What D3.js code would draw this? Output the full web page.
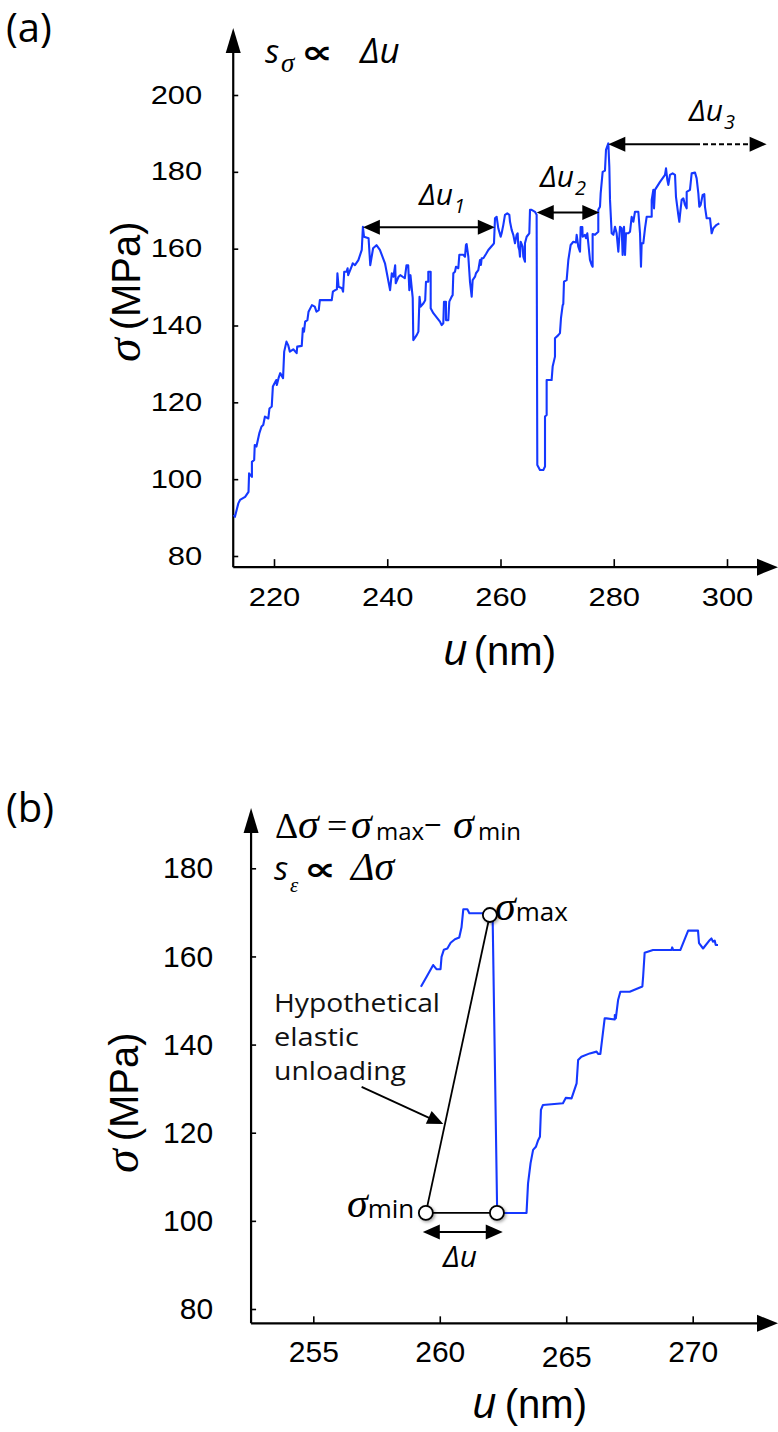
<!DOCTYPE html>
<html>
<head>
<meta charset="utf-8">
<script src="https://cdn.jsdelivr.net/npm/d3@7"></script>
<style>
  body { margin: 0; background: #fff; }
  svg { display: block; }
</style>
</head>
<body>
<svg id="fig" width="778" height="1432"></svg>
<script>
// ---------- Panel (a): stress vs displacement, full trace ----------
const uA = [
  212.9, 213.1, 213.7, 214.0, 214.9, 215.5, 215.6, 216.1, 216.1, 216.5, 216.6, 216.9, 217.4, 217.8, 218.1,
  218.4, 219.0, 219.2, 219.6, 219.8, 220.4, 220.5, 220.8, 221.1, 221.6, 221.8, 222.2, 222.5, 222.8, 223.4,
  224.0, 224.1, 224.9, 225.1, 225.3, 225.5, 225.9, 226.1, 226.7, 227.2, 227.5, 227.9, 228.0, 228.1, 230.2,
  230.4, 230.8, 231.1, 231.2, 231.4, 232.0, 232.2, 232.4, 232.8, 233.0, 233.1, 233.7, 233.9, 234.3, 234.9,
  235.5, 235.7, 235.9, 236.7, 237.0, 237.5, 238.1, 238.7, 239.6, 240.5, 240.8, 241.1, 241.4, 241.5, 242.0,
  242.3, 243.1, 243.4, 243.7, 243.9, 244.1, 244.5, 244.6, 245.2, 245.5, 245.7, 245.9, 246.4, 246.7, 246.84,
  247.25, 247.25, 247.67, 247.67, 248.14, 249.31, 249.61, 249.9, 250.02, 250.37, 250.37, 250.78, 250.96, 251.37, 251.55,
  251.67, 251.96, 252.14, 252.55, 252.73, 253.43, 253.73, 253.9, 254.02, 254.32, 254.61, 254.91, 255.08, 255.5, 255.67,
  256.08, 256.38, 256.55, 256.67, 256.97, 257.44, 257.85, 258.61, 258.85, 259.03, 259.32, 259.61, 260.03, 260.2, 260.5,
  260.79, 261.2, 261.56, 261.68, 261.97, 262.26, 262.56, 262.85, 263.03, 263.15, 263.32, 263.44, 263.56, 263.91, 264.03,
  264.32, 264.32, 264.62, 265.09, 265.21, 265.5, 266.09, 266.38, 266.5, 266.97, 267.56, 267.86, 267.86, 268.15, 268.15,
  269.03, 269.21, 269.62, 269.62, 270.21, 270.5, 270.68, 270.98, 271.09, 271.21, 271.68, 271.98, 272.39, 272.86, 273.33,
  273.45, 273.74, 274.04, 274.16, 274.45, 274.51, 274.92, 275.1, 275.33, 275.51, 275.8, 276.1, 276.27, 276.27, 276.69,
  276.98, 277.27, 277.27, 277.57, 277.69, 278.04, 278.45, 278.63, 279.04, 279.22, 279.34, 279.63, 279.93, 280.22, 280.51,
  280.81, 281.1, 281.4, 281.57, 281.81, 281.99, 282.16, 282.58, 282.87, 283.16, 283.46, 283.75, 284.34, 284.64, 284.81,
  284.93, 285.22, 285.52, 285.81, 286.7, 286.7, 286.99, 287.11, 287.28, 288.17, 289.05, 289.23, 289.46, 289.64, 289.93,
  290.4, 290.82, 290.99, 291.4, 291.58, 291.7, 291.99, 292.29, 292.58, 292.88, 292.88, 293.46, 293.76, 294.35, 294.64,
  294.94, 295.11, 295.35, 295.7, 295.99, 296.11, 296.41, 297.0, 297.29, 297.58, 298.17, 298.64
];
const sigmaA = [
  90.7, 90.2, 93.7, 94.6, 95.4, 96.7, 101.5, 100.6, 104.5, 105.0, 108.9, 108.5, 111.9, 113.7, 114.1,
  116.3, 115.8, 118.4, 118.9, 124.1, 125.8, 124.5, 126.3, 127.6, 126.3, 133.2, 135.8, 134.9, 133.2, 133.8,
  132.8, 134.5, 134.7, 139.3, 138.4, 141.0, 141.4, 143.6, 145.3, 144.9, 143.6, 144.0, 145.3, 146.6, 146.6,
  148.8, 149.2, 149.4, 153.6, 150.1, 149.7, 148.8, 154.0, 154.0, 154.9, 153.1, 155.3, 156.2, 155.7, 157.0,
  159.7, 165.7, 163.1, 162.7, 155.7, 160.1, 160.9, 159.7, 156.2, 149.2, 153.6, 152.7, 155.7, 151.0, 152.7,
  153.1, 152.3, 155.7, 155.7, 149.2, 153.1, 147.1, 136.2, 137.5, 138.4, 147.5, 144.9, 145.8, 146.6, 151.4,
  151.4, 154.0, 154.0, 144.5, 143.2, 141.0, 140.1, 140.6, 146.2, 146.2, 141.4, 141.4, 146.2, 147.5, 147.9,
  153.6, 154.0, 155.3, 154.9, 158.4, 158.4, 157.9, 161.0, 161.2, 157.9, 151.4, 147.5, 151.8, 152.7, 153.6,
  154.4, 157.05, 155.75, 157.5, 157.5, 158.6, 159.65, 160.96, 161.4, 167.9, 168.3, 165.3, 163.1, 164.0, 166.2,
  168.8, 169.2, 168.8, 167.0, 164.9, 163.6, 161.4, 163.6, 164.0, 160.5, 159.65, 157.9, 161.8, 160.5, 157.9,
  156.6, 161.4, 163.1, 164.0, 170.1, 170.1, 169.6, 168.8, 103.7, 102.4, 102.4, 103.3, 116.3, 116.7, 125.8,
  125.8, 129.3, 131.9, 136.7, 137.5, 138.0, 141.9, 145.3, 145.6, 151.4, 151.8, 157.05, 160.96, 161.8, 161.6,
  163.6, 160.5, 159.2, 165.6, 165.6, 163.1, 163.6, 162.7, 164.0, 161.4, 157.05, 155.75, 155.3, 163.8, 163.6,
  164.0, 164.4, 170.1, 170.9, 174.4, 180.0, 180.3, 185.7, 187.4, 181.3, 172.7, 164.0, 163.6, 165.7, 164.0,
  159.2, 165.7, 165.3, 158.35, 165.7, 158.35, 164.0, 164.0, 164.4, 168.3, 167.0, 169.6, 169.6, 164.0, 155.3,
  161.4, 161.4, 165.3, 168.3, 168.3, 172.7, 175.3, 170.5, 175.3, 177.4, 179.2, 180.9, 177.9, 176.6, 179.2,
  179.6, 179.2, 173.5, 168.8, 167.0, 168.8, 172.7, 173.1, 171.4, 170.5, 174.8, 175.3, 179.6, 179.8, 178.3,
  174.4, 170.9, 171.4, 174.0, 174.2, 170.9, 167.9, 167.9, 164.0, 165.3, 166.2, 166.6
];
const uTicksA = [220, 240, 260, 280, 300];
const sigmaTicksA = [80, 100, 120, 140, 160, 180, 200];
// flow intervals: [start u, end u, stress level]
const deltaU1 = [235.7, 259.0, 165.6];
const deltaU2 = [266.4, 277.45, 169.4];
const deltaU3 = [279.04, 307.0, 187.2, 294.35]; // last: where the interval turns dashed

// ---------- Panel (b): zoom on one stress drop ----------
const uB = [
  259.255, 259.48, 259.74, 259.87, 260.03, 260.07, 260.16, 260.3, 260.43, 260.6, 260.77, 260.86, 260.93, 261.09, 261.17,
  261.92, 262.09, 262.27, 263.43, 263.49, 263.59, 263.69, 263.8, 263.89, 263.96, 264.0, 264.08, 264.87, 264.98, 265.21,
  265.41, 265.47, 265.6, 265.93, 266.2, 266.26, 266.35, 266.52, 266.59, 266.92, 266.92, 266.96, 267.05, 267.14, 267.51,
  268.01, 268.04, 268.1, 268.43, 269.16, 269.19, 269.23, 269.51, 269.82, 270.21, 270.25, 270.41, 270.67, 270.74, 270.8,
  270.87, 270.91, 271.0
];
const sigmaB = [
  153.1, 155.4, 158.05, 157.1, 157.1, 159.9, 161.5, 161.8, 163.1, 163.9, 164.3, 166.6, 170.7, 170.7, 169.8,
  169.8, 169.0, 101.8, 101.8, 108.5, 113.1, 116.1, 116.8, 118.3, 119.1, 125.2, 126.3, 126.7, 127.9, 127.8,
  131.2, 136.5, 137.25, 138.0, 138.4, 137.9, 137.9, 145.95, 145.95, 145.7, 146.7, 145.95, 150.1, 152.0, 152.0,
  153.2, 155.4, 160.85, 161.45, 161.45, 162.05, 161.45, 161.45, 165.85, 165.85, 163.0, 161.8, 163.7, 164.1, 163.35,
  163.6, 162.6, 162.6
];
const uTicksB = [255, 260, 265, 270];
const sigmaTicksB = [80, 100, 120, 140, 160, 180];
const sigmaMaxPoint = [261.98, 169.4];
const sigmaMinPoint = [259.45, 101.8];
const dropEndPoint = [262.26, 101.8];
const deltaUB = [259.33, 262.49, 97.5];
const unloadPointer = [[256.91, 130.4], [260.14, 122.0]];
const unloadNote = ["Hypothetical", "elastic", "unloading"];

// ---------- drawing ----------
const BLUE = "#1538ff";
const SANS = "'Liberation Sans', Arial, sans-serif";
const HUM = "'Open Sans', 'Noto Sans', sans-serif";
const SERIF = "'Liberation Serif', 'Times New Roman', serif";
const svg = d3.select("#fig");

const defs = svg.append("defs");
const shadow = defs.append("filter").attr("id", "soft").attr("x", "-50%").attr("y", "-50%")
  .attr("width", "200%").attr("height", "200%");
shadow.append("feDropShadow").attr("dx", 1.5).attr("dy", 1.5).attr("stdDeviation", 1.6)
  .attr("flood-color", "#000").attr("flood-opacity", 0.35);

function head(g, tip, from, len, half) {
  const dx = tip[0] - from[0], dy = tip[1] - from[1];
  const L = Math.hypot(dx, dy), ux = dx / L, uy = dy / L;
  const bx = tip[0] - ux * len, by = tip[1] - uy * len;
  g.append("path")
    .attr("d", `M${tip[0]},${tip[1]}L${bx - uy * half},${by + ux * half}L${bx + uy * half},${by - ux * half}Z`)
    .attr("fill", "#000");
}

function axesFrame(g, x0, y0, xTip, yTip) {
  g.append("line").attr("x1", x0).attr("y1", y0).attr("x2", x0).attr("y2", yTip + 20)
    .attr("stroke", "#000").attr("stroke-width", 2.2);
  g.append("line").attr("x1", x0).attr("y1", y0).attr("x2", xTip - 16).attr("y2", y0)
    .attr("stroke", "#000").attr("stroke-width", 2.2);
  head(g, [x0, yTip], [x0, y0], 25, 7.5);
  head(g, [xTip, y0], [x0, y0], 21, 8.5);
}

function doubleArrow(g, x1, x2, y, dashFrom) {
  const len = 17, half = 7.5;
  if (dashFrom == null) {
    g.append("line").attr("x1", x1 + len - 2).attr("x2", x2 - len + 2).attr("y1", y).attr("y2", y)
      .attr("stroke", "#000").attr("stroke-width", 2);
  } else {
    g.append("line").attr("x1", x1 + len - 2).attr("x2", dashFrom).attr("y1", y).attr("y2", y)
      .attr("stroke", "#000").attr("stroke-width", 2);
    g.append("line").attr("x1", dashFrom).attr("x2", x2 - len + 2).attr("y1", y).attr("y2", y)
      .attr("stroke", "#000").attr("stroke-width", 2).attr("stroke-dasharray", "5,3");
  }
  head(g, [x1, y], [x2, y], len, half);
  head(g, [x2, y], [x1, y], len, half);
}

// a wide, heavy "proportional to" sign
function propTo(g, x, y, size) {
  g.append("text").attr("transform", `translate(${x},${y}) scale(1.4,1)`)
    .style("font-family", "'DejaVu Sans'").style("font-weight", "bold").style("font-size", size + "px")
    .attr("fill", "#000").text("∝");
}

// ===== Panel (a) =====
const xA = d3.scaleLinear().domain([220, 300]).range([274, 727]);
const yA = d3.scaleLinear().domain([80, 200]).range([556, 95]);
const gA = svg.append("g");
const ax0 = xA(212.8), ay0 = yA(77.1);

gA.append("g").attr("transform", `translate(${ax0},0)`)
  .call(d3.axisLeft(yA).tickValues(sigmaTicksA).tickSize(-5).tickPadding(31))
  .call(g => g.select(".domain").remove())
  .call(g => g.selectAll("line").attr("stroke", "#000").attr("stroke-width", 1.6))
  .call(g => g.selectAll("text").attr("fill", "#000").style("font-family", SANS).style("font-size", "25px")
    .attr("textLength", d => String(d).length * 17.2).attr("lengthAdjust", "spacingAndGlyphs"));
gA.append("g").attr("transform", `translate(0,${ay0})`)
  .call(d3.axisBottom(xA).tickValues(uTicksA).tickSize(-8).tickPadding(21))
  .call(g => g.select(".domain").remove())
  .call(g => g.selectAll("line").attr("stroke", "#000").attr("stroke-width", 1.6))
  .call(g => g.selectAll("text").attr("fill", "#000").style("font-family", SANS).style("font-size", "25px")
    .attr("textLength", d => String(d).length * 17.2).attr("lengthAdjust", "spacingAndGlyphs"));

axesFrame(gA, ax0, ay0, 778, 28);

const lineA = d3.line().x(i => xA(uA[i])).y(i => yA(sigmaA[i]));
gA.append("path").attr("d", lineA(d3.range(uA.length)))
  .attr("fill", "none").attr("stroke", BLUE).attr("stroke-width", 2.1).attr("stroke-linejoin", "round");

doubleArrow(gA, xA(deltaU1[0]), xA(deltaU1[1]), yA(deltaU1[2]));
doubleArrow(gA, xA(deltaU2[0]), xA(deltaU2[1]), yA(deltaU2[2]));
doubleArrow(gA, xA(deltaU3[0]), xA(deltaU3[1]), yA(deltaU3[2]), xA(deltaU3[3]));

function deltaULabel(g, x, y, sub) {
  const t = g.append("text").attr("x", x).attr("y", y).style("font-family", HUM)
    .style("font-style", "italic").style("font-size", "30px").attr("fill", "#000");
  t.append("tspan").text("Δu");
  t.append("tspan").attr("dx", 1).attr("dy", 8).style("font-size", "20px").text(sub);
}
deltaULabel(gA, 419, 205, "1");
deltaULabel(gA, 540, 187, "2");
deltaULabel(gA, 689, 121, "3");

// scaling relation
{
  const t = gA.append("text").attr("y", 63).attr("fill", "#000");
  t.append("tspan").attr("x", 265).style("font-family", HUM).style("font-style", "italic").style("font-size", "33px").text("s");
  t.append("tspan").attr("x", 281).attr("dy", 9).style("font-family", SERIF).style("font-style", "italic").style("font-size", "27px").text("σ");
  t.append("tspan").attr("x", 360).attr("dy", -9).style("font-family", HUM).style("font-style", "italic").style("font-size", "35px").text("Δu");
  propTo(gA, 301, 63, 32);
}

// axis titles (a)
{
  const t = gA.append("text").attr("x", 443).attr("y", 665).attr("fill", "#000");
  t.append("tspan").style("font-family", HUM).style("font-style", "italic").style("font-size", "43px").text("u");
  t.append("tspan").attr("dx", 6).style("font-family", SANS).style("font-size", "40px").text("(nm)");
  const r = gA.append("text").attr("transform", "translate(140,362) rotate(-90)").attr("fill", "#000");
  r.append("tspan").style("font-family", SERIF).style("font-style", "italic").style("font-size", "48px").text("σ");
  r.append("tspan").attr("dx", 8).style("font-family", SANS).style("font-size", "40px").text("(MPa)");
}
gA.append("text").attr("x", 6).attr("y", 42).style("font-family", HUM).style("font-size", "40px").text("(a)");

// ===== Panel (b) =====
const xB = d3.scaleLinear().domain([255, 270]).range([313.3, 692.7]);
const yB = d3.scaleLinear().domain([80, 180]).range([1309, 868.3]);
const gB = svg.append("g");
const bx0 = xB(252.54), by0 = yB(76.75);

gB.append("g").attr("transform", `translate(${bx0},0)`)
  .call(d3.axisLeft(yB).tickValues(sigmaTicksB).tickSize(-5).tickPadding(38))
  .call(g => g.select(".domain").remove())
  .call(g => g.selectAll("line").attr("stroke", "#000").attr("stroke-width", 1.6))
  .call(g => g.selectAll("text").attr("fill", "#000").style("font-family", SANS).style("font-size", "30px"));
gB.append("g").attr("transform", `translate(0,${by0})`)
  .call(d3.axisBottom(xB).tickValues(uTicksB).tickSize(-7).tickPadding(17))
  .call(g => g.select(".domain").remove())
  .call(g => g.selectAll("line").attr("stroke", "#000").attr("stroke-width", 1.6))
  .call(g => g.selectAll("text").attr("fill", "#000").style("font-family", SANS).style("font-size", "30px")
    .attr("transform", d => d === 265 ? "translate(0,5)" : null));

axesFrame(gB, bx0, by0, 778, 808);

const lineB = d3.line().x(i => xB(uB[i])).y(i => yB(sigmaB[i]));
gB.append("path").attr("d", lineB(d3.range(uB.length)))
  .attr("fill", "none").attr("stroke", BLUE).attr("stroke-width", 2.1).attr("stroke-linejoin", "round");

// hypothetical elastic unloading and the displacement gap
gB.append("line")
  .attr("x1", xB(sigmaMaxPoint[0])).attr("y1", yB(sigmaMaxPoint[1]))
  .attr("x2", xB(sigmaMinPoint[0])).attr("y2", yB(sigmaMinPoint[1]))
  .attr("stroke", "#000").attr("stroke-width", 1.8);
gB.append("line")
  .attr("x1", xB(sigmaMinPoint[0])).attr("y1", yB(sigmaMinPoint[1]))
  .attr("x2", xB(dropEndPoint[0])).attr("y2", yB(dropEndPoint[1]))
  .attr("stroke", "#000").attr("stroke-width", 1.8);

gB.selectAll("circle.mk").data([sigmaMaxPoint, sigmaMinPoint, dropEndPoint]).join("circle")
  .attr("class", "mk").attr("cx", d => xB(d[0])).attr("cy", d => yB(d[1])).attr("r", 7)
  .attr("fill", "#fff").attr("stroke", "#000").attr("stroke-width", 1.8).attr("filter", "url(#soft)");

doubleArrow(gB, xB(deltaUB[0]), xB(deltaUB[1]), yB(deltaUB[2]));
gB.append("text").attr("x", 443).attr("y", 1267).style("font-family", HUM).style("font-style", "italic")
  .style("font-size", "30px").text("Δu");

// pointer to the unloading line
{
  const p0 = [xB(unloadPointer[0][0]), yB(unloadPointer[0][1])];
  const p1 = [xB(unloadPointer[1][0]), yB(unloadPointer[1][1])];
  gB.append("line").attr("x1", p0[0]).attr("y1", p0[1]).attr("x2", p1[0] - 12).attr("y2", p1[1] - 5)
    .attr("stroke", "#000").attr("stroke-width", 1.8);
  head(gB, p1, p0, 16, 7);
}
{
  const widths = [166, 85, 132];
  const t = gB.append("text").attr("y", 1012).style("font-family", HUM)
    .style("font-size", "25px").attr("fill", "#111");
  unloadNote.forEach((s, i) => {
    t.append("tspan").attr("x", 274).attr("dy", i === 0 ? 0 : 34)
      .attr("textLength", widths[i]).attr("lengthAdjust", "spacingAndGlyphs").text(s);
  });
}

// point labels
function sigmaLabel(g, x, y, sub) {
  const t = g.append("text").attr("x", x).attr("y", y).attr("fill", "#000");
  t.append("tspan").style("font-family", SERIF).style("font-style", "italic").style("font-size", "42px").text("σ");
  t.append("tspan").style("font-family", HUM).style("font-size", "26px").attr("dy", 1).text(sub);
}
sigmaLabel(gB, 495, 920, "max");
sigmaLabel(gB, 347, 1217, "min");

// definitions
{
  const t = gB.append("text").attr("y", 838).attr("fill", "#000");
  t.append("tspan").attr("x", 275).style("font-family", SERIF).style("font-size", "36px").text("Δ");
  t.append("tspan").attr("x", 298).style("font-family", SERIF).style("font-style", "italic").style("font-size", "42px").text("σ");
  t.append("tspan").attr("x", 327).style("font-family", SERIF).style("font-size", "36px").text("=");
  t.append("tspan").attr("x", 351).style("font-family", SERIF).style("font-style", "italic").style("font-size", "42px").text("σ");
  t.append("tspan").attr("x", 376).attr("dy", 2).style("font-family", HUM).style("font-size", "24px").text("max");
  t.append("tspan").attr("x", 424).attr("dy", -5).style("font-family", SANS).style("font-size", "30px").text("−");
  t.append("tspan").attr("x", 453).attr("dy", 3).style("font-family", SERIF).style("font-style", "italic").style("font-size", "42px").text("σ");
  t.append("tspan").attr("x", 478).attr("dy", 2).style("font-family", HUM).style("font-size", "24px").text("min");

  const s = gB.append("text").attr("y", 880).attr("fill", "#000");
  s.append("tspan").attr("x", 274).style("font-family", HUM).style("font-style", "italic").style("font-size", "33px").text("s");
  s.append("tspan").attr("x", 290).attr("dy", 12).style("font-family", SERIF).style("font-style", "italic").style("font-size", "21px").text("ε");
  s.append("tspan").attr("x", 351).attr("dy", -12).style("font-family", SERIF).style("font-style", "italic").style("font-size", "40px").text("Δσ");
  propTo(gB, 304, 880, 32);
}

// axis titles (b)
{
  const t = gB.append("text").attr("x", 472).attr("y", 1418).attr("fill", "#000");
  t.append("tspan").style("font-family", HUM).style("font-style", "italic").style("font-size", "43px").text("u");
  t.append("tspan").attr("dx", 8).style("font-family", SANS).style("font-size", "40px").text("(nm)");
  const r = gB.append("text").attr("transform", "translate(138,1173) rotate(-90)").attr("fill", "#000");
  r.append("tspan").style("font-family", SERIF).style("font-style", "italic").style("font-size", "48px").text("σ");
  r.append("tspan").attr("dx", 8).style("font-family", SANS).style("font-size", "40px").text("(MPa)");
}
gB.append("text").attr("x", 6).attr("y", 822).style("font-family", HUM).style("font-size", "40px").text("(b)");
</script>
</body>
</html>
